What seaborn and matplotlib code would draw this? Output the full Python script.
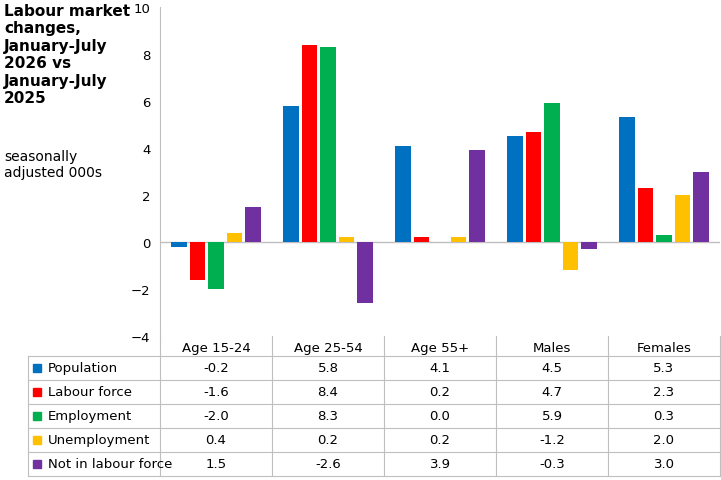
import matplotlib
matplotlib.use("Agg")
import matplotlib.pyplot as plt
import seaborn as sns
import pandas as pd

groups = ["Age 15-24", "Age 25-54", "Age 55+", "Males", "Females"]
series = ["Population", "Labour force", "Employment", "Unemployment", "Not in labour force"]
population = [-0.2, 5.8, 4.1, 4.5, 5.3]
labour_force = [-1.6, 8.4, 0.2, 4.7, 2.3]
employment = [-2.0, 8.3, 0.0, 5.9, 0.3]
unemployment = [0.4, 0.2, 0.2, -1.2, 2.0]
not_in_lf = [1.5, -2.6, 3.9, -0.3, 3.0]
colors = ["#0070C0", "#FF0000", "#00B050", "#FFC000", "#7030A0"]

values = [population, labour_force, employment, unemployment, not_in_lf]
rows = []
for s, vals in zip(series, values):
    for g, v in zip(groups, vals):
        rows.append({"group": g, "series": s, "value": v})
df = pd.DataFrame(rows)

W, H = 721, 481
fig = plt.figure(figsize=(W / 100, H / 100), dpi=100)
x0, x1, yt, yb = 160, 720, 8, 337
ax = fig.add_axes([x0 / W, 1 - yb / H, (x1 - x0) / W, (yb - yt) / H])
sns.barplot(data=df, x="group", y="value", hue="series", palette=colors,
            width=0.82, gap=0.15, ax=ax, legend=False, saturation=1)
ax.set_ylim(-4, 10)
ax.set_yticks(range(-4, 11, 2))
ax.set_xlabel("")
ax.set_ylabel("")
ax.set_xticks([])
ax.axhline(0, color="#BFBFBF", lw=1, zorder=0)
for sp in ["top", "right", "bottom"]:
    ax.spines[sp].set_visible(False)
ax.spines["left"].set_color("#BFBFBF")
ax.tick_params(axis="y", length=0, labelsize=9.5, pad=7)

# data table
line = dict(color="#BFBFBF", lw=0.8)
col_w = (x1 - x0) / 5
row_h = 24
top = yb
def fy(y):
    return 1 - y / H
for i in range(6):
    xx = (x0 + i * col_w) / W
    fig.add_artist(plt.Line2D([xx, xx], [fy(top), fy(top + row_h * 6 - 4)], **line))
for j in range(1, 7):
    y = top + row_h * j - 4
    fig.add_artist(plt.Line2D([28 / W, x1 / W], [fy(y), fy(y)], **line))
fig.add_artist(plt.Line2D([28 / W, 28 / W], [fy(top + row_h - 4), fy(top + row_h * 6 - 4)], **line))
for i, g in enumerate(groups):
    fig.text((x0 + (i + 0.5) * col_w) / W, fy(top + 12), g, ha="center", va="center", fontsize=9.5)
for j, (s, vals, c) in enumerate(zip(series, values, colors)):
    yc = top + row_h * (j + 1) + 8
    fig.patches.append(plt.Rectangle((33 / W, fy(yc + 4)), 8 / W, 8 / H, color=c, transform=fig.transFigure))
    fig.text(48 / W, fy(yc), s, ha="left", va="center", fontsize=9.5)
    for i, v in enumerate(vals):
        fig.text((x0 + (i + 0.5) * col_w) / W, fy(yc), f"{v:.1f}", ha="center", va="center", fontsize=9.5)

fig.text(4 / W, fy(4), "Labour market\nchanges,\nJanuary-July\n2026 vs\nJanuary-July\n2025",
         ha="left", va="top", fontsize=11, fontweight="bold", linespacing=1.2)
fig.text(4 / W, fy(150), "seasonally\nadjusted 000s", ha="left", va="top", fontsize=10, linespacing=1.2)

fig.savefig("out.png", dpi=100)
